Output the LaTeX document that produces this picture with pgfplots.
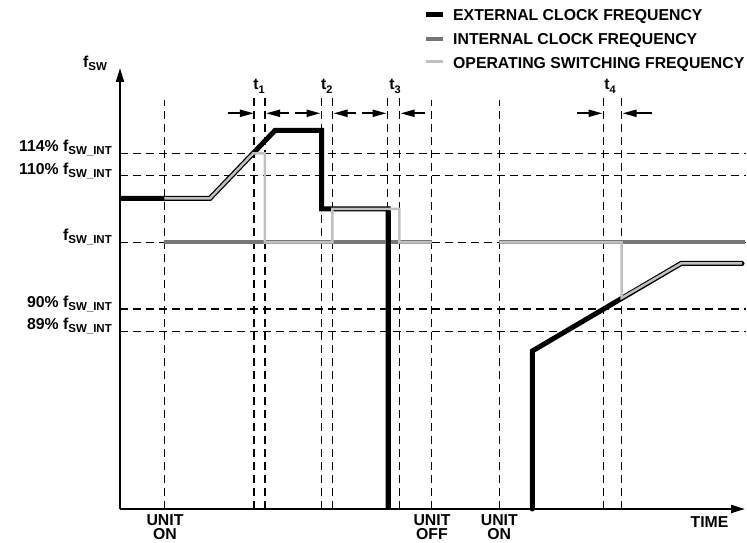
\documentclass[border=0pt]{standalone}
\usepackage{pgfplots}
\pgfplotsset{compat=1.18}
\usetikzlibrary{arrows.meta}
\usepackage{fontspec}
\setmainfont{Liberation Sans}

\definecolor{intgray}{RGB}{118,118,118}
\definecolor{opgray}{RGB}{192,192,192}

\tikzset{
    lbl/.style={font=\fontsize{15.8}{18}\selectfont\bfseries, inner sep=0pt},
    dsh/.style={black, line width=1.2pt, dash pattern=on 8pt off 5pt},
    arr/.style={black, line width=2pt, -{Triangle[length=14pt,width=7pt]}},
}

% subscripts in the text font
\newcommand{\sub}[1]{\raisebox{-3pt}{\fontsize{11.5}{11.5}\selectfont #1}}
\newcommand{\tsub}[1]{\raisebox{-3.3pt}{\fontsize{11}{11}\selectfont #1}}
\newcommand{\fint}{f\sub{SW\_INT}}

\begin{document}
\begin{tikzpicture}
\begin{axis}[
    scale only axis, width=625pt, height=441pt,
    xmin=120, xmax=745, ymin=34, ymax=475,
    axis lines=left,
    axis line style={line width=2pt, -{Triangle[length=14pt,width=8pt]}},
    xtick=\empty, ytick=\empty, clip=false,
]
% page size = reference size
\path (axis cs:0,0) rectangle (axis cs:747,543);

% reference levels
\addplot[dsh] coordinates {(120,389.7)(746,389.7)};
\addplot[dsh] coordinates {(120,367.3)(746,367.3)};
\addplot[dsh] coordinates {(120,300.7)(746,300.7)};
\addplot[dsh] coordinates {(120,234.0)(746,234.0)};
\addplot[dsh] coordinates {(120,211.3)(746,211.3)};

% time markers
\addplot[dsh] coordinates {(164.3,34)(164.3,443)};
\addplot[dsh] coordinates {(254.0,34)(254.0,446)};
\addplot[dsh] coordinates {(265.0,34)(265.0,446)};
\addplot[dsh] coordinates {(321.5,34)(321.5,446)};
\addplot[dsh] coordinates {(332.3,34)(332.3,446)};
\addplot[dsh] coordinates {(387.7,34)(387.7,446)};
\addplot[dsh] coordinates {(399.3,34)(399.3,446)};
\addplot[dsh] coordinates {(431.7,34)(431.7,443)};
\addplot[dsh] coordinates {(499.3,34)(499.3,443)};
\addplot[dsh] coordinates {(603.3,34)(603.3,446)};
\addplot[dsh] coordinates {(621.7,34)(621.7,446)};

% interval arrows
\addplot[arr] coordinates {(228,429.7)(254,429.7)};
\addplot[arr] coordinates {(289,429.7)(266,429.7)};
\addplot[arr] coordinates {(295,429.7)(320.5,429.7)};
\addplot[arr] coordinates {(356,429.7)(333.5,429.7)};
\addplot[arr] coordinates {(362,429.7)(386.5,429.7)};
\addplot[arr] coordinates {(425,429.7)(400.5,429.7)};
\addplot[arr] coordinates {(577,429.7)(602.5,429.7)};
\addplot[arr] coordinates {(652,429.7)(622.5,429.7)};

% external clock frequency
\addplot[black, line width=5pt] coordinates {(120,344.7)(210,344.7)(275,412.5)(321.5,412.5)(321.5,334)(388,334)(388,34)};
\addplot[black, line width=5pt, line cap=round] coordinates {(532.3,34)(532.3,192)(681,279.5)(742,279.5)};

% internal clock frequency
\addplot[intgray, line width=4pt] coordinates {(164.3,300.7)(431.7,300.7)};
\addplot[intgray, line width=4pt] coordinates {(499.3,300.7)(745,300.7)};

% operating switching frequency
\addplot[opgray, line width=2.5pt] coordinates {(164.3,344.7)(210,344.7)(253.2,389.7)(265,389.7)(265,300.7)(332.3,300.7)(332.3,334)(399.3,334)(399.3,300.7)(431.7,300.7)};
\addplot[opgray, line width=2.5pt] coordinates {(499.3,300.7)(621.7,300.7)(621.7,245)(681,279.5)(742,279.5)};

% external drop drawn over the lower lines
\addplot[black, line width=5pt] coordinates {(388,332)(388,34)};

% legend
\addplot[black, line width=5pt] coordinates {(426,528)(443,528)};
\addplot[intgray, line width=4pt] coordinates {(426,504)(443,504)};
\addplot[opgray, line width=3pt] coordinates {(426,481.3)(443,481.3)};
\node[lbl, anchor=base west] at (axis cs:453,522.3) {EXTERNAL CLOCK FREQUENCY};
\node[lbl, anchor=base west] at (axis cs:453,498.0) {INTERNAL CLOCK FREQUENCY};
\node[lbl, anchor=base west] at (axis cs:453,474.7) {OPERATING SWITCHING FREQUENCY};

% axis labels
\node[lbl, anchor=base west] at (axis cs:83,475) {f\sub{SW}};
\node[lbl, anchor=base east] at (axis cs:112,391.3) {114\% \fint};
\node[lbl, anchor=base east] at (axis cs:112,368.7) {110\% \fint};
\node[lbl, anchor=base east] at (axis cs:112,302.0) {\fint};
\node[lbl, anchor=base east] at (axis cs:112,235.5) {90\% \fint};
\node[lbl, anchor=base east] at (axis cs:112,213.0) {89\% \fint};

\node[lbl, anchor=base] at (axis cs:259,453) {t\tsub{1}};
\node[lbl, anchor=base] at (axis cs:326.7,453) {t\tsub{2}};
\node[lbl, anchor=base] at (axis cs:395,453) {t\tsub{3}};
\node[lbl, anchor=base] at (axis cs:610,453) {t\tsub{4}};

\node[lbl, anchor=base] at (axis cs:165,17.5) {UNIT};
\node[lbl, anchor=base] at (axis cs:165,3) {ON};
\node[lbl, anchor=base] at (axis cs:432,17.5) {UNIT};
\node[lbl, anchor=base] at (axis cs:432,3) {OFF};
\node[lbl, anchor=base] at (axis cs:499.3,17.5) {UNIT};
\node[lbl, anchor=base] at (axis cs:499.3,3) {ON};
\node[lbl, anchor=base] at (axis cs:709.5,15) {TIME};
\end{axis}
\end{tikzpicture}
\end{document}
